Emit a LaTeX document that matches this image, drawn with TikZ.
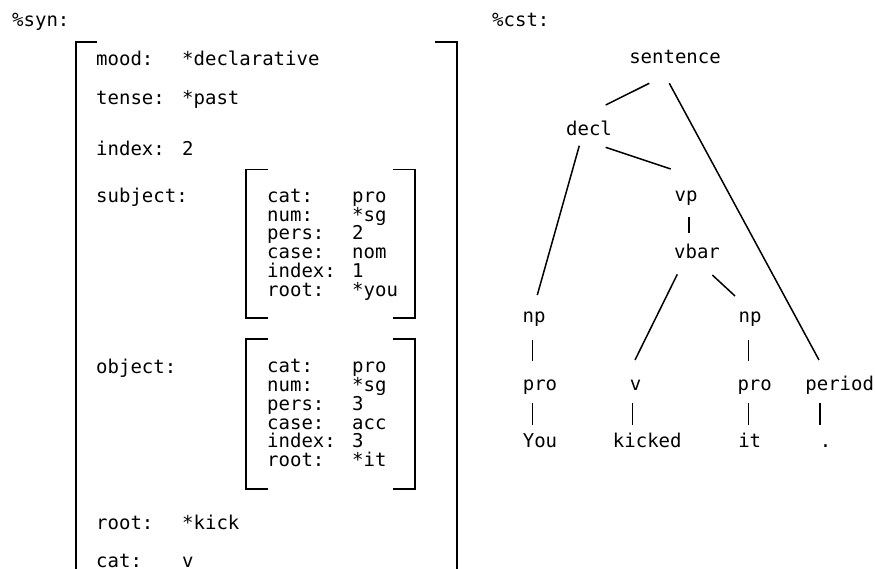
\documentclass[tikz,border=0pt]{standalone}
\usepackage{fontspec}
\setmainfont{DejaVu Sans Mono}
\usetikzlibrary{calc}
\begin{document}
\begin{tikzpicture}[x=1pt,y=-1pt,
  every node/.style={inner sep=0pt,font=\fontsize{19}{20}\selectfont},
  lbl/.style={anchor=base west},
  tnode/.style={anchor=base},
  edge/.style={line width=1.5pt},
  bracket/.style={line width=1.8pt}]
\useasboundingbox (0,0) rectangle (875,569);

% ---------- feature structure ----------
\node[lbl] (syn) at (12,27) {\%syn:};

% outer brackets (open at the bottom)
\draw[bracket] (97,42) -- (76,42) -- (76,575);
\draw[bracket] (435,42) -- (457,42) -- (457,575);

\node[lbl] (moodk)  at (96,65.7)  {mood:};
\node[lbl] (moodv)  at (182,65.7) {*declarative};
\node[lbl] (tensek) at (96,105)   {tense:};
\node[lbl] (tensev) at (182,105)  {*past};
\node[lbl] (indexk) at (96,155.7) {index:};
\node[lbl] (indexv) at (182,155.7){2};
\node[lbl] (subjk)  at (96,203)   {subject:};
\node[lbl] (objk)   at (96,373)   {object:};
\node[lbl] (rootk)  at (96,529.3) {root:};
\node[lbl] (rootv)  at (182,529.3){*kick};
\node[lbl] (catk)   at (96,567.5) {cat:};
\node[lbl] (catv)   at (182,567.5){v};

% subject structure
\draw[bracket] (268,169.5) -- (246,169.5) -- (246,317.7) -- (268,317.7);
\draw[bracket] (393,169.5) -- (415,169.5) -- (415,317.7) -- (393,317.7);
\foreach \k/\v [count=\i] in {cat:/pro, num:/*sg, pers:/2, case:/nom, index:/1, root:/*you}{
  \node[lbl] (sk\i) at (267,{202.3+18.75*(\i-1)}) {\k};
  \node[lbl] (sv\i) at (352,{202.3+18.75*(\i-1)}) {\v};
}

% object structure
\draw[bracket] (268,339.3) -- (246,339.3) -- (246,489.3) -- (268,489.3);
\draw[bracket] (393,339.3) -- (415,339.3) -- (415,489.3) -- (393,489.3);
\foreach \k/\v [count=\i] in {cat:/pro, num:/*sg, pers:/3, case:/acc, index:/3, root:/*it}{
  \node[lbl] (ok\i) at (267,{372.7+18.8*(\i-1)}) {\k};
  \node[lbl] (ov\i) at (352,{372.7+18.8*(\i-1)}) {\v};
}

% ---------- constituent tree ----------
\node[lbl] (cst) at (492,26.7) {\%cst:};

\node[tnode] (sentence) at (675,64)      {sentence};
\node[tnode] (decl)     at (589,136)     {decl};
\node[tnode] (vp)       at (686,201.7)   {vp};
\node[tnode] (vbar)     at (697,258.3)   {vbar};
\node[tnode] (npL)      at (534,322.7)   {np};
\node[tnode] (npR)      at (750,322.7)   {np};
\node[tnode] (proL)     at (540,390.7)   {pro};
\node[tnode] (verb)     at (635.5,390.7) {v};
\node[tnode] (proR)     at (754.7,390.7) {pro};
\node[tnode] (period)   at (839.7,390.7) {period};
\node[tnode] (you)      at (540,447.3)   {You};
\node[tnode] (kicked)   at (647.3,447.3) {kicked};
\node[tnode] (it)       at (749.7,447.3) {it};
\node[tnode] (dot)      at (825.5,447.3) {.};

\draw[edge] ($(sentence.base)+(-25.7,19.3)$) -- ($(decl.base)+(16.7,-31)$);
\draw[edge] ($(sentence.base)+(-5.7,19.3)$)  -- ($(period.base)+(-20.7,-30.7)$);
\draw[edge] ($(decl.base)+(-9.7,9.7)$)       -- ($(npL.base)+(3.3,-27.7)$);
\draw[edge] ($(decl.base)+(16.7,11.3)$)      -- ($(vp.base)+(-15.3,-32.7)$);
\draw[edge] ($(vp.base)+(3,15)$)             -- ($(vbar.base)+(-8,-25.6)$);
\draw[edge] ($(vbar.base)+(-19.7,16)$)       -- ($(verb.base)+(-0.5,-30.7)$);
\draw[edge] ($(vbar.base)+(15.3,16.7)$)      -- ($(npR.base)+(-15,-26.7)$);
\draw[edge] ($(npL.base)+(-1.7,17.3)$)       -- ($(proL.base)+(-7.7,-30)$);
\draw[edge] ($(npR.base)+(-1.7,17.3)$)       -- ($(proR.base)+(-6.4,-30)$);
\draw[edge] ($(proL.base)+(-7.7,12.6)$)      -- ($(you.base)+(-7.7,-22.3)$);
\draw[edge] ($(verb.base)+(-3.2,12.6)$)      -- ($(kicked.base)+(-15,-22.3)$);
\draw[edge] ($(proR.base)+(-6.4,12.6)$)      -- ($(it.base)+(-1.4,-22.3)$);
\draw[edge] ($(period.base)+(-19.7,12.6)$)   -- ($(dot.base)+(-5.5,-22.3)$);
\end{tikzpicture}
\end{document}
